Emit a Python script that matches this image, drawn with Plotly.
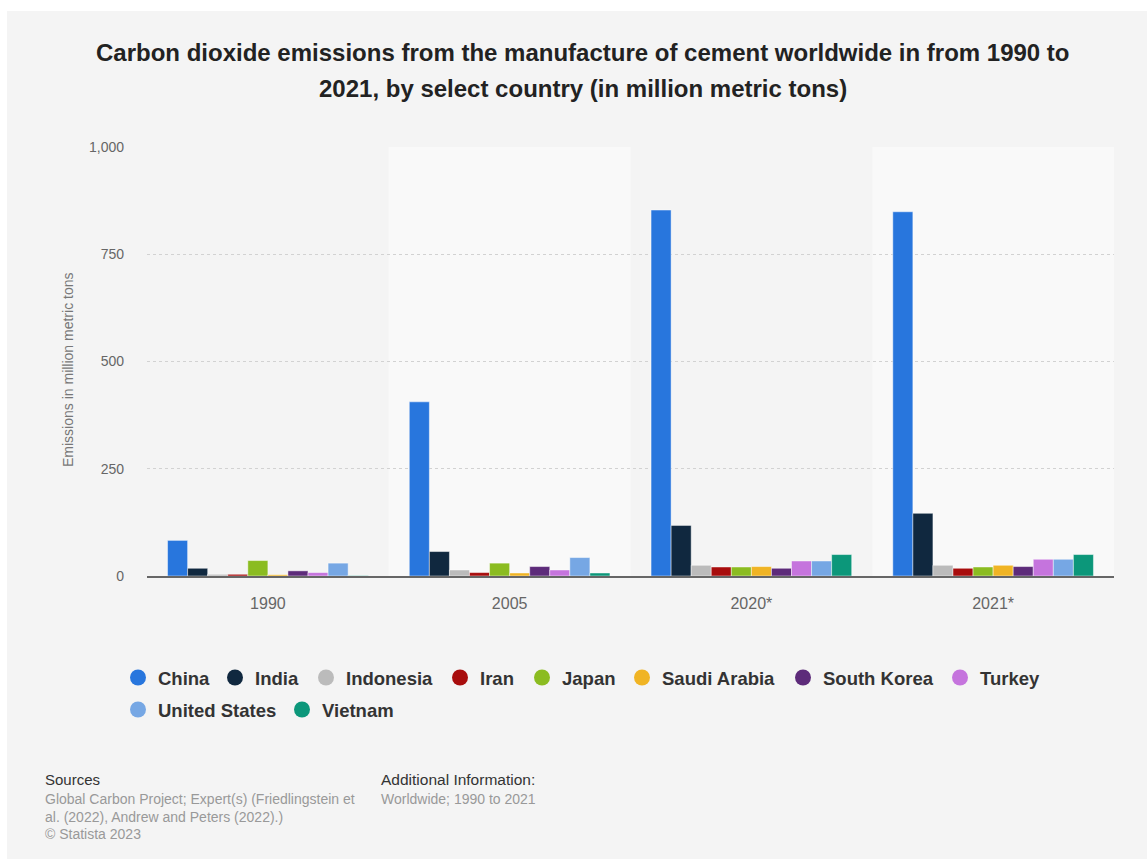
import plotly.graph_objects as go

# Categories and series (million metric tons of CO2 from cement production)
years = ["1990", "2005", "2020*", "2021*"]
countries = ["China", "India", "Indonesia", "Iran", "Japan", "Saudi Arabia",
             "South Korea", "Turkey", "United States", "Vietnam"]
china = [83, 406, 853, 849]
india = [18, 57, 118, 146]
indonesia = [4, 14, 25, 25]
iran = [4, 8, 21, 18]
japan = [36, 30, 21, 21]
saudi_arabia = [3, 7, 22, 25]
south_korea = [12, 22, 18, 22]
turkey = [8, 14, 35, 39]
united_states = [30, 43, 35, 39]
vietnam = [1, 7, 50, 50]
series = [china, india, indonesia, iran, japan, saudi_arabia,
          south_korea, turkey, united_states, vietnam]
colors = ["#2876dd", "#10283f", "#bbbbbb", "#a80d0d", "#8bbc21", "#f0b424",
          "#5d2b7a", "#c574dd", "#76a7e4", "#0c977a"]
y_ticks = [0, 250, 500, 750, 1000]

W, H = 1147, 859
L, R, T, B = 147, 33, 147, 283
PW, PH = W - L - R, H - T - B
FONT = "Liberation Sans, Arial, sans-serif"


def px_x(px):
    return (px - L) / PW


def px_y(py):
    return (H - B - py) / PH


# pixel centres of the legend circles (two rows)
legend_spots = [(138, 678), (235, 678), (326, 678), (460, 678), (542, 678),
                (642, 678), (803, 678), (960, 678), (138, 710), (302, 710)]
legend_keys = ["legend"] + [f"legend{i}" for i in range(2, len(countries) + 1)]

fig = go.Figure()

for name, vals, col in zip(countries, series, colors):
    fig.add_trace(go.Bar(
        x=years, y=vals, name=name, showlegend=False,
        marker=dict(color=col, line=dict(color="rgba(255,255,255,0.45)", width=1)),
    ))

# Circle legend entries
for name, col, key in zip(countries, colors, legend_keys):
    fig.add_trace(go.Scatter(
        x=[None], y=[None], mode="markers", name=name,
        marker=dict(symbol="circle", size=16, color=col),
        legend=key,
    ))

legends = {}
for key, (cx, cy) in zip(legend_keys, legend_spots):
    legends[key] = dict(
        orientation="h", xanchor="left", yanchor="middle",
        x=px_x(cx - 20), y=px_y(cy),
        font=dict(family=FONT, size=18.5, color="#333333", weight="bold"),
        bgcolor="rgba(0,0,0,0)", itemsizing="trace",
    )

shapes = [
    # panel background with thin white border on top/left
    dict(type="rect", xref="paper", yref="paper",
         x0=px_x(7), x1=px_x(W + 20), y0=px_y(H + 20), y1=px_y(11),
         fillcolor="#f4f4f4", line=dict(width=0), layer="below"),
]
# alternating category bands
for i in (1, 3):
    shapes.append(dict(type="rect", xref="x", yref="paper",
                       x0=i - 0.5, x1=i + 0.5, y0=0, y1=1,
                       fillcolor="#f9f9f9", line=dict(width=0), layer="below"))

annotations = [
    dict(text="<b>Carbon dioxide emissions from the manufacture of cement worldwide in from 1990 to</b>",
         x=px_x(583), y=px_y(52)),
    dict(text="<b>2021, by select country (in million metric tons)</b>",
         x=px_x(583), y=px_y(88)),
]
for a in annotations:
    a.update(xref="paper", yref="paper", xanchor="center", yanchor="middle",
             showarrow=False, font=dict(family=FONT, size=24, color="#222222"))

annotations.append(dict(
    text="Emissions in million metric tons", textangle=-90,
    xref="paper", yref="paper", x=px_x(68), y=px_y(370),
    xanchor="center", yanchor="middle", showarrow=False,
    font=dict(family=FONT, size=14, color="#777777")))

footer = [
    ("Sources", 43, 779, "#333333", 15),
    ("Global Carbon Project; Expert(s) (Friedlingstein et", 43, 799, "#999999", 14),
    ("al. (2022), Andrew and Peters (2022).)", 43, 817, "#999999", 14),
    ("© Statista 2023", 43, 834, "#999999", 14),
    ("Additional Information:", 379, 779, "#333333", 15.5),
    ("Worldwide; 1990 to 2021", 379, 799, "#999999", 14),
]
for text, fx, fy, fc, fs in footer:
    annotations.append(dict(
        text=text, xref="paper", yref="paper", x=px_x(fx), y=px_y(fy),
        xanchor="left", yanchor="middle", showarrow=False,
        font=dict(family=FONT, size=fs, color=fc)))

fig.update_layout(
    width=W, height=H,
    margin=dict(l=L, r=R, t=T, b=B, autoexpand=False),
    paper_bgcolor="#ffffff", plot_bgcolor="rgba(0,0,0,0)",
    barmode="group", bargap=0.17, bargroupgap=0,
    font=dict(family=FONT, color="#666666"),
    shapes=shapes, annotations=annotations,
    xaxis=dict(
        type="category", showgrid=False, showline=True, linecolor="#666666",
        linewidth=2, ticks="", ticklabelstandoff=12,
        tickfont=dict(size=16, color="#666666"), fixedrange=True,
    ),
    yaxis=dict(
        range=[0, 1000], tickvals=y_ticks, tickformat=",",
        showgrid=True, gridcolor="#d2d2d2", griddash="dot", gridwidth=1,
        zeroline=False, showline=False, ticks="", ticklabelstandoff=22,
        tickfont=dict(size=14, color="#666666"), fixedrange=True,
    ),
    **legends,
)

fig.write_html("out.html")
